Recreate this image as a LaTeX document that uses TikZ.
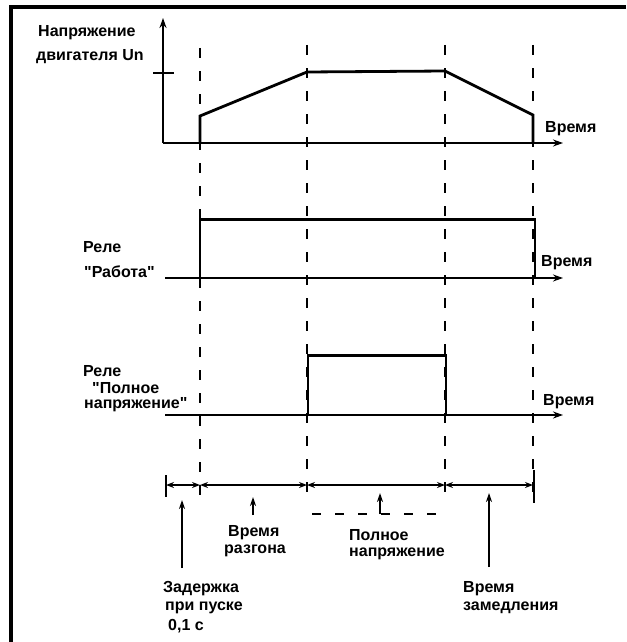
\documentclass[tikz,border=0pt]{standalone}
\usepackage{fontspec}
\setmainfont{Liberation Sans}[Ligatures=TeXOff]
\usetikzlibrary{arrows.meta}
\tikzset{
 axis/.style={line width=1.8pt,-{Stealth[length=10pt,width=7pt]}},
 sig/.style={line width=2.8pt, line join=miter},
 guide/.style={line width=1.3pt, dash pattern=on 10pt off 13pt},
 dim/.style={line width=1.6pt,{Stealth[length=8pt,width=6pt]}-{Stealth[length=8pt,width=6pt]}},
 pointer/.style={line width=1.8pt,-{Stealth[length=9pt,width=6pt]}},
 lbl/.style={anchor=base west, inner sep=0pt, font=\fontsize{16}{18}\selectfont\bfseries},
}
\begin{document}
\begin{tikzpicture}[x=1pt,y=-1pt]
\useasboundingbox (0,0) rectangle (626,642);
% frame
\coordinate (fb) at (11,642); \coordinate (fc) at (11,7); \coordinate (fr) at (626,7);
\draw[line width=3.5pt] (fb) -- (fc) -- (fr);

% guides
\foreach \n/\x/\a/\b in {g1/200/48/503, g2/307/45/505, g3/445/45/500, g4/533/45/503}{
  \coordinate (\n a) at (\x,\a); \coordinate (\n b) at (\x,\b);
  \draw[guide] (\n a) -- (\n b);
}

% motor voltage
\coordinate (o1) at (163,143); \coordinate (y1) at (163,18); \coordinate (x1) at (563,143);
\draw[axis] (o1) -- (y1);
\draw[axis] (o1) -- (x1);
\coordinate (tk1) at (153,73); \coordinate (tk2) at (174,73);
\draw[line width=1.6pt] (tk1) -- (tk2);
\coordinate (v0) at (200,143); \coordinate (v1) at (200,116); \coordinate (v2) at (307,72);
\coordinate (v3) at (445,71); \coordinate (v4) at (533,115); \coordinate (v5) at (533,143);
\draw[sig] (v0) -- (v1) -- (v2) -- (v3) -- (v4) -- (v5);
\node[lbl] (l1) at (38,37) {Напряжение};
\node[lbl] (l2) at (36,60) {двигателя Un};
\node[lbl] (w1) at (545,132) {Время};

% relay Работа
\coordinate (o2) at (165,278); \coordinate (x2) at (563,278);
\draw[axis] (o2) -- (x2);
\coordinate (r0) at (200,278); \coordinate (r1) at (200,219.5); \coordinate (r2) at (535,219.5); \coordinate (r3) at (535,278);
\draw[sig] (r0) -- (r1) -- (r2) -- (r3);
\node[lbl] (l3) at (83,252) {Реле};
\node[lbl] (l4) at (84,277) {"Работа"};
\node[lbl] (w2) at (541,266) {Время};

% relay Полное напряжение
\coordinate (o3) at (165,415); \coordinate (x3) at (563,415);
\draw[axis] (o3) -- (x3);
\coordinate (p0) at (308,415); \coordinate (p1) at (308,355.5); \coordinate (p2) at (446,355.5); \coordinate (p3) at (446,415);
\draw[sig] (p0) -- (p1) -- (p2) -- (p3);
\node[lbl] (l5) at (83,376) {Реле};
\node[lbl] (l6) at (92,393) {"Полное};
\node[lbl] (l7) at (84,408) {напряжение"};
\node[lbl] (w3) at (543,405) {Время};

% dimension line
\coordinate (d0) at (166,485); \coordinate (d1) at (200,485); \coordinate (d2) at (307,485);
\coordinate (d3) at (445,485); \coordinate (d4) at (533,485);
\draw[dim] (d0) -- (d1);
\draw[dim] (d1) -- (d2);
\draw[dim] (d2) -- (d3);
\draw[dim] (d3) -- (d4);
\coordinate (e0a) at (166,475); \coordinate (e0b) at (166,497);
\draw[line width=2pt] (e0a) -- (e0b);
\coordinate (e4a) at (534,470); \coordinate (e4b) at (534,503);
\draw[line width=1.8pt] (e4a) -- (e4b);
\coordinate (h0) at (312,514); \coordinate (h1) at (447,514);
\draw[line width=1.3pt, dash pattern=on 9pt off 14pt] (h0) -- (h1);

% pointers
\coordinate (a0) at (182,568); \coordinate (a1) at (182,500);
\draw[pointer] (a0) -- (a1);
\coordinate (b0) at (253,515); \coordinate (b1) at (253,497);
\draw[pointer] (b0) -- (b1);
\coordinate (c0) at (380,514); \coordinate (c1) at (380,493);
\draw[pointer] (c0) -- (c1);
\coordinate (m0) at (489,567); \coordinate (m1) at (489,493);
\draw[pointer] (m0) -- (m1);

% bottom labels
\node[lbl] (z1) at (163,592) {Задержка};
\node[lbl] (z2) at (165,610) {при пуске};
\node[lbl] (z3) at (168,630) {0,1 с};
\node[lbl] (q1) at (228,536) {Время};
\node[lbl] (q2) at (224,553) {разгона};
\node[lbl] (n1) at (349,540) {Полное};
\node[lbl] (n2) at (349,556) {напряжение};
\node[lbl] (s1) at (463,592) {Время};
\node[lbl] (s2) at (463,610) {замедления};
\end{tikzpicture}
\end{document}
